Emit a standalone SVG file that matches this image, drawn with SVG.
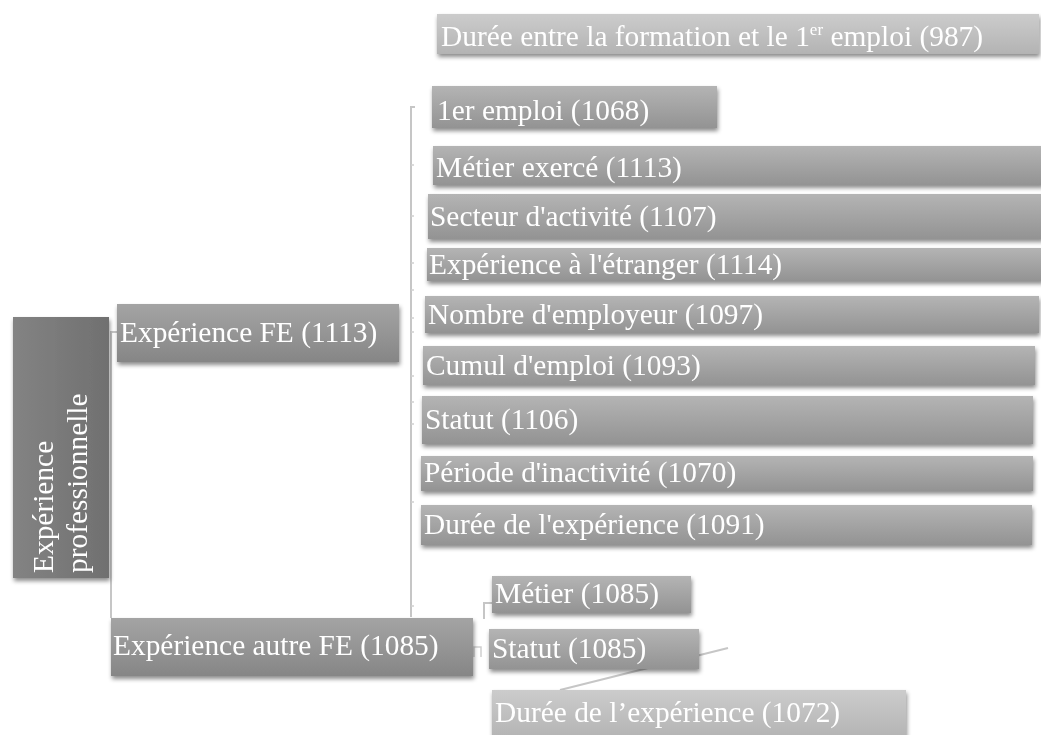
<svg xmlns="http://www.w3.org/2000/svg" width="1041" height="735" viewBox="0 0 1041 735">
<defs>
<linearGradient id="gChild" x1="0" y1="0" x2="0" y2="1"><stop offset="0" stop-color="#b4b4b4"/><stop offset="1" stop-color="#939393"/></linearGradient>
<linearGradient id="gL1" x1="0" y1="0" x2="0" y2="1"><stop offset="0" stop-color="#a4a4a4"/><stop offset="1" stop-color="#868686"/></linearGradient>
<linearGradient id="gLight" x1="0" y1="0" x2="0" y2="1"><stop offset="0" stop-color="#cccccc"/><stop offset="1" stop-color="#b3b3b3"/></linearGradient>
<linearGradient id="gRoot" x1="0" y1="0" x2="1" y2="0"><stop offset="0" stop-color="#838383"/><stop offset="1" stop-color="#707070"/></linearGradient>
<filter id="sh" x="-5%" y="-20%" width="112%" height="150%"><feDropShadow dx="1" dy="3" stdDeviation="2" flood-color="#000" flood-opacity="0.45"/></filter>
</defs>
<style>
.box{filter:url(#sh)}
.c{fill:url(#gChild)}
.l1{fill:url(#gL1)}
.lt{fill:url(#gLight)}
.t{font-family:"Liberation Serif","Times New Roman",serif;font-size:29.4px;fill:#ffffff}
.ln{fill:none;stroke:#c6c6c6;stroke-width:2}
.tk{fill:none;stroke:#cfcfcf;stroke-width:1.5}
</style>
<g id="connectors">
<path class="ln" d="M117,332 H111 V618"/>
<path class="ln" d="M415,107 H411 V617"/>
<path class="tk" d="M411,165 h3 M411,216 h3 M411,263 h3 M411,290 h3 M411,318 h3 M411,332 h3 M411,376 h3 M411,402 h3 M411,424 h3 M411,502 h3 M411,606 h3"/>
<path class="ln" d="M492,603 H484 V619"/>
<path class="tk" d="M474,657 V647 H481 V657"/>
<path class="ln" d="M560,690 L728,648"/>
</g>
<g id="n-root" class="box"><rect x="13" y="317" width="96" height="261" fill="url(#gRoot)"/>
<text class="t" transform="translate(53,573) rotate(-90)">Expérience</text>
<text class="t" transform="translate(87,573) rotate(-90)">professionnelle</text></g>
<g id="n-fe" class="box"><rect class="l1" x="117" y="304" width="282" height="58"/><text class="t" x="120" y="342">Expérience FE (1113)</text></g>
<g id="n-autre" class="box"><rect class="l1" x="111" y="618" width="362" height="58"/><text class="t" x="113" y="655">Expérience autre FE (1085)</text></g>
<g id="n-duree1" class="box"><rect class="lt" x="437" y="14" width="602" height="40"/><text class="t" x="441" y="46">Durée entre la formation et le 1<tspan font-size="17" dy="-11">er</tspan><tspan dy="11"> emploi (987)</tspan></text></g>
<g id="n-1er" class="box"><rect class="c" x="432" y="86" width="285" height="42"/><text class="t" x="437" y="120">1er emploi (1068)</text></g>
<g id="n-metier" class="box"><rect class="c" x="433" y="146" width="610" height="39"/><text class="t" x="436" y="177">Métier exercé (1113)</text></g>
<g id="n-secteur" class="box"><rect class="c" x="428" y="194" width="615" height="45"/><text class="t" x="430" y="226">Secteur d'activité (1107)</text></g>
<g id="n-etranger" class="box"><rect class="c" x="427" y="248" width="616" height="33"/><text class="t" x="429" y="274">Expérience à l'étranger (1114)</text></g>
<g id="n-nombre" class="box"><rect class="c" x="425" y="296" width="614" height="37"/><text class="t" x="428" y="324">Nombre d'employeur (1097)</text></g>
<g id="n-cumul" class="box"><rect class="c" x="423" y="346" width="612" height="39"/><text class="t" x="426" y="375">Cumul d'emploi (1093)</text></g>
<g id="n-statut" class="box"><rect class="c" x="422" y="396" width="611" height="48"/><text class="t" x="425" y="429">Statut (1106)</text></g>
<g id="n-periode" class="box"><rect class="c" x="421" y="456" width="612" height="35"/><text class="t" x="424" y="482">Période d'inactivité (1070)</text></g>
<g id="n-duree2" class="box"><rect class="c" x="421" y="505" width="611" height="40"/><text class="t" x="424" y="534">Durée de l'expérience (1091)</text></g>
<g id="n-metier2" class="box"><rect class="c" x="492" y="576" width="199" height="37"/><text class="t" x="495" y="603">Métier (1085)</text></g>
<g id="n-statut2" class="box"><rect class="c" x="489" y="629" width="210" height="40"/><text class="t" x="492" y="658">Statut (1085)</text></g>
<g id="n-duree3" class="box"><rect class="lt" x="492" y="690" width="414" height="50"/><text class="t" x="495" y="722">Durée de l’expérience (1072)</text></g>
</svg>
